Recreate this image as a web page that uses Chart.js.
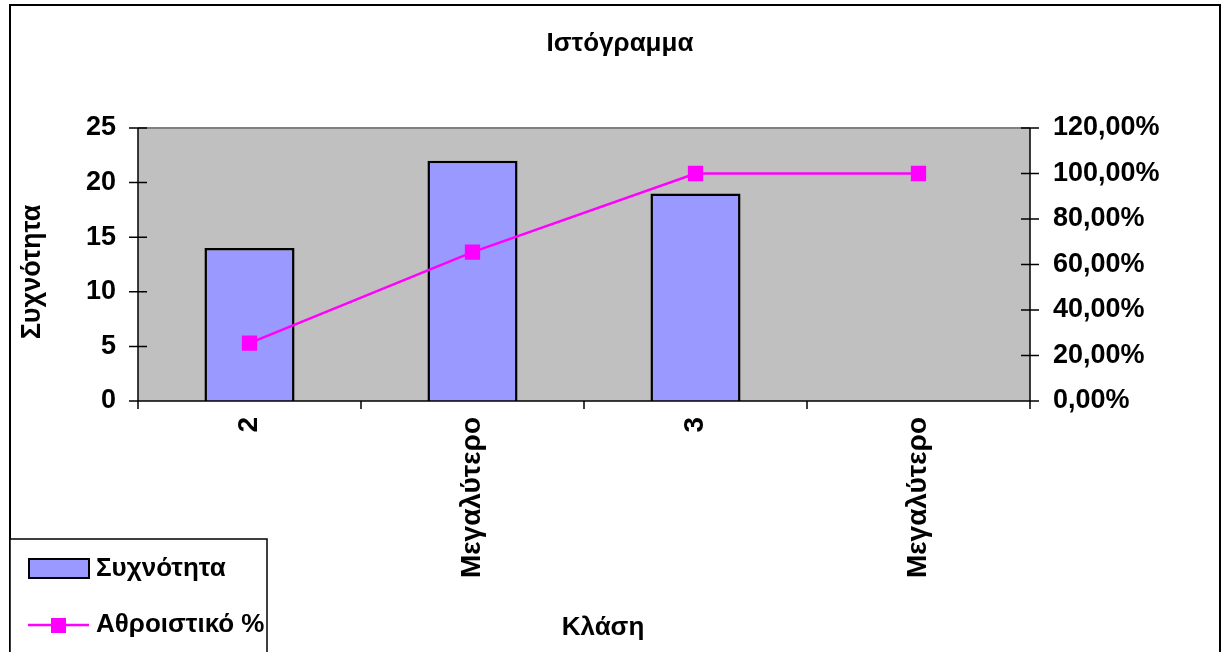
<!DOCTYPE html>
<html>
<head>
<meta charset="utf-8">
<script src="https://cdn.jsdelivr.net/npm/chart.js@4/dist/chart.umd.min.js"></script>
<style>
  html, body { margin: 0; padding: 0; background: #ffffff; }
  #wrap { width: 1228px; height: 652px; position: relative; }
</style>
</head>
<body>
<div id="wrap"><canvas id="c" width="1228" height="652"></canvas></div>
<script>
// Histogram: frequency per class (bars, left axis) and cumulative percent (line, right axis)
const categories = ['2', 'Μεγαλύτερο', '3', 'Μεγαλύτερο'];
const frequency = [14, 22, 19, 0];
const cumulativePercent = [25.45, 65.45, 100, 100];
const chartTitle = 'Ιστόγραμμα';
const xTitle = 'Κλάση';
const yTitle = 'Συχνότητα';
const barLabel = 'Συχνότητα';
const lineLabel = 'Αθροιστικό %';

const FONT = '"Liberation Sans", Arial, sans-serif';
const Y_TICK_FONT = { family: FONT, size: 27, weight: 'bold' };
const X_TICK_FONT = { family: FONT, size: 28, weight: 'bold' };

function pctLabel(v) {
  return v.toFixed(2).replace('.', ',') + '%';
}

// Plot background, frame, axes with crossing ticks, titles and legend
const decor = {
  id: 'decor',
  beforeDraw(chart) {
    const { ctx, chartArea: a } = chart;
    ctx.save();
    ctx.fillStyle = '#ffffff';
    ctx.fillRect(0, 0, chart.width, chart.height);
    ctx.fillStyle = '#c0c0c0';
    ctx.fillRect(a.left, a.top, a.right - a.left, a.bottom - a.top);
    ctx.strokeStyle = '#808080';
    ctx.lineWidth = 2;
    ctx.beginPath();
    ctx.moveTo(a.left, a.top);
    ctx.lineTo(a.right, a.top);
    ctx.stroke();
    ctx.restore();
  },
  afterDatasetsDraw(chart) {
    const { ctx, chartArea: a, scales } = chart;
    ctx.save();
    ctx.strokeStyle = '#000000';
    ctx.lineWidth = 1.5;
    ctx.beginPath();
    // left axis
    ctx.moveTo(a.left, a.top); ctx.lineTo(a.left, a.bottom + 8);
    // right axis
    ctx.moveTo(a.right, a.top); ctx.lineTo(a.right, a.bottom + 8);
    // bottom axis
    ctx.moveTo(a.left, a.bottom); ctx.lineTo(a.right, a.bottom);
    scales.y.ticks.forEach(t => {
      const y = scales.y.getPixelForValue(t.value);
      ctx.moveTo(a.left - 9, y); ctx.lineTo(a.left + 9, y);
    });
    scales.y1.ticks.forEach(t => {
      const y = scales.y1.getPixelForValue(t.value);
      ctx.moveTo(a.right - 9, y); ctx.lineTo(a.right + 9, y);
    });
    const n = categories.length;
    for (let i = 0; i <= n; i++) {
      const x = a.left + (a.right - a.left) * i / n;
      ctx.moveTo(x, a.bottom); ctx.lineTo(x, a.bottom + 8);
    }
    ctx.stroke();
    ctx.restore();
  },
  afterDraw(chart) {
    const { ctx } = chart;
    ctx.save();
    // outer frame
    ctx.strokeStyle = '#000000';
    ctx.lineWidth = 2;
    ctx.strokeRect(10, 5, 1210, 660);

    ctx.fillStyle = '#000000';
    ctx.textAlign = 'center';
    ctx.textBaseline = 'middle';
    ctx.font = 'bold 26px ' + FONT;
    ctx.fillText(chartTitle, 620, 44);

    ctx.font = 'bold 26px ' + FONT;
    ctx.fillText(xTitle, 603, 628);

    ctx.font = 'bold 27px ' + FONT;
    ctx.save();
    ctx.translate(33, 272);
    ctx.rotate(-Math.PI / 2);
    ctx.fillText(yTitle, 0, 0);
    ctx.restore();

    // legend
    ctx.fillStyle = '#ffffff';
    ctx.fillRect(10, 539, 257, 130);
    ctx.strokeStyle = '#000000';
    ctx.lineWidth = 1.5;
    ctx.strokeRect(10, 539, 257, 130);

    ctx.fillStyle = '#9999ff';
    ctx.fillRect(29, 559, 60, 19);
    ctx.lineWidth = 2;
    ctx.strokeRect(29, 559, 60, 19);

    ctx.strokeStyle = '#ff00ff';
    ctx.lineWidth = 2.5;
    ctx.beginPath();
    ctx.moveTo(28, 625); ctx.lineTo(89, 625);
    ctx.stroke();
    ctx.fillStyle = '#ff00ff';
    ctx.fillRect(51, 618, 15, 15);

    ctx.fillStyle = '#000000';
    ctx.textAlign = 'left';
    ctx.font = 'bold 26px ' + FONT;
    ctx.fillText(barLabel, 96, 569);
    ctx.fillText(lineLabel, 96, 625);
    ctx.restore();
  }
};

new Chart(document.getElementById('c'), {
  data: {
    labels: categories,
    datasets: [
      {
        type: 'line',
        label: lineLabel,
        data: cumulativePercent,
        yAxisID: 'y1',
        borderColor: '#ff00ff',
        backgroundColor: '#ff00ff',
        borderWidth: 2.5,
        pointStyle: 'rect',
        pointRadius: 10.8,
        pointBorderWidth: 0,
        pointBackgroundColor: '#ff00ff',
        tension: 0,
        order: 0
      },
      {
        type: 'bar',
        label: barLabel,
        data: frequency,
        yAxisID: 'y',
        backgroundColor: '#9999ff',
        borderColor: '#000000',
        borderWidth: 2.5,
        borderSkipped: 'start',
        categoryPercentage: 1,
        barPercentage: 0.404,
        order: 1
      }
    ]
  },
  options: {
    responsive: false,
    animation: false,
    events: [],
    layout: { padding: { top: 128, left: 0, right: 0, bottom: 0 } },
    plugins: {
      legend: { display: false },
      title: { display: false },
      tooltip: { enabled: false }
    },
    scales: {
      x: {
        type: 'category',
        offset: true,
        grid: { display: false, drawTicks: false },
        border: { display: false },
        ticks: {
          color: '#000000',
          font: X_TICK_FONT,
          minRotation: 90,
          maxRotation: 90,
          padding: 16,
          autoSkip: false
        },
        afterFit(s) { s.height = 251; }
      },
      y: {
        position: 'left',
        min: 0,
        max: 25,
        grid: { display: false, drawTicks: false },
        border: { display: false },
        ticks: {
          stepSize: 5,
          color: '#000000',
          font: Y_TICK_FONT,
          padding: 22
        },
        afterFit(s) { s.width = 138; }
      },
      y1: {
        position: 'right',
        min: 0,
        max: 120,
        grid: { display: false, drawTicks: false },
        border: { display: false },
        ticks: {
          stepSize: 20,
          color: '#000000',
          font: Y_TICK_FONT,
          padding: 23,
          callback: v => pctLabel(v)
        },
        afterFit(s) { s.width = 198; }
      }
    }
  },
  plugins: [decor]
});
</script>
</body>
</html>
